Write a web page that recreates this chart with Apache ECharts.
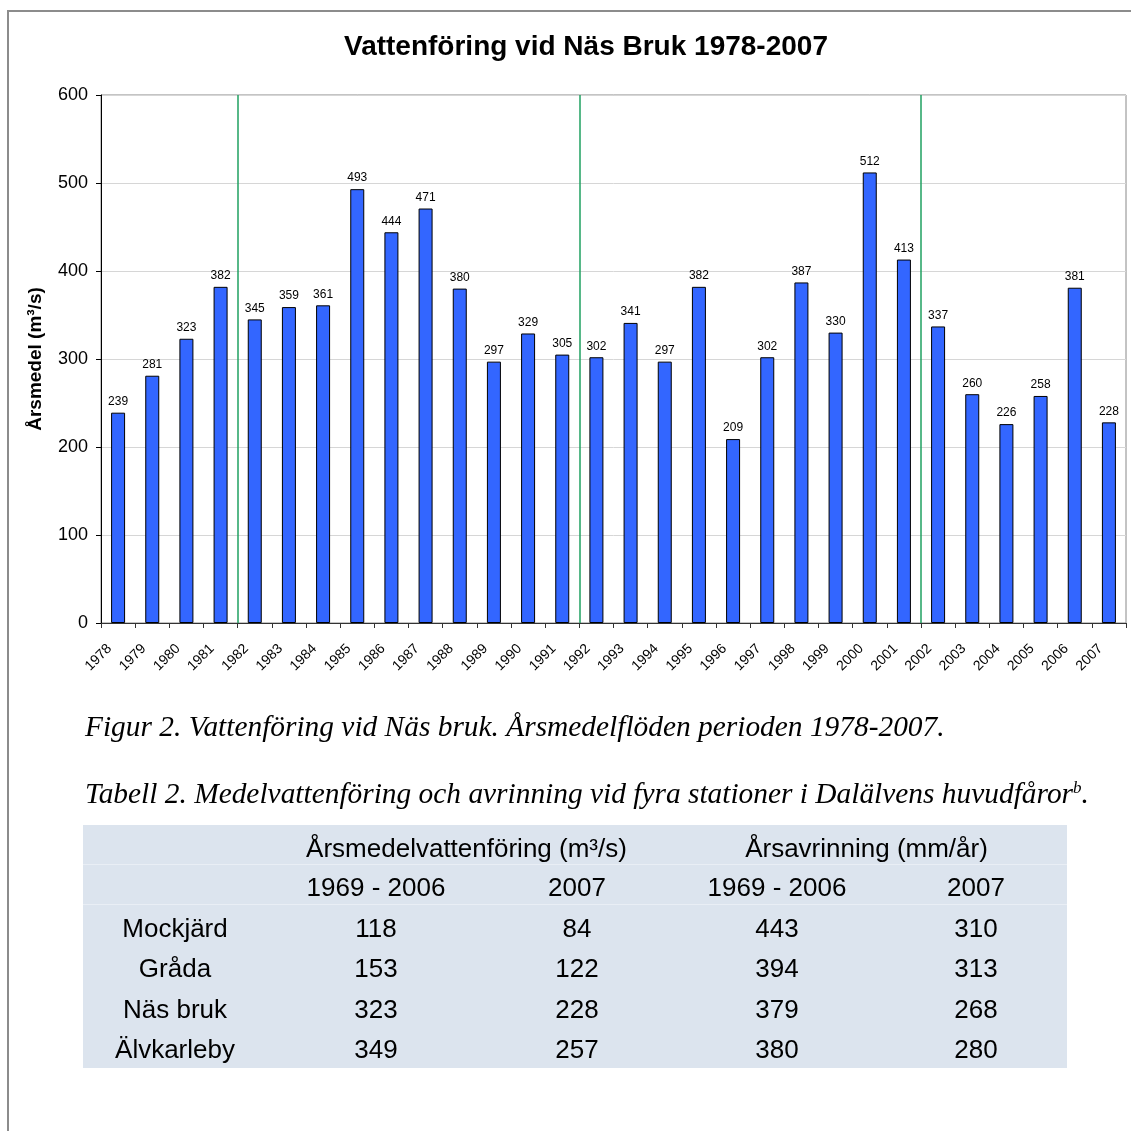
<!DOCTYPE html>
<html>
<head>
<meta charset="utf-8">
<script src="https://cdn.jsdelivr.net/npm/echarts@6/dist/echarts.min.js"></script>
<style>
  html, body { margin: 0; padding: 0; background: #fff; }
  #main { width: 1131px; height: 1131px; }
</style>
</head>
<body>
<div id="main"></div>
<script>
  const years = ['1978', '1979', '1980', '1981', '1982', '1983', '1984', '1985', '1986', '1987',
    '1988', '1989', '1990', '1991', '1992', '1993', '1994', '1995', '1996', '1997',
    '1998', '1999', '2000', '2001', '2002', '2003', '2004', '2005', '2006', '2007'];
  const flows = [239, 281, 323, 382, 345, 359, 361, 493, 444, 471,
    380, 297, 329, 305, 302, 341, 297, 382, 209, 302,
    387, 330, 512, 413, 337, 260, 226, 258, 381, 228];
  // green dividers sit just before these years
  const periodStarts = ['1982', '1992', '2002'];

  const stations = ['Mockjärd', 'Gråda', 'Näs bruk', 'Älvkarleby'];
  const flowMean = [118, 153, 323, 349];
  const flow2007 = [84, 122, 228, 257];
  const runoffMean = [443, 394, 379, 380];
  const runoff2007 = [310, 313, 268, 280];
  const groupHeads = ['Årsmedelvattenföring (m³/s)', 'Årsavrinning (mm/år)'];
  const periodHeads = ['1969 - 2006', '2007', '1969 - 2006', '2007'];

  const sans = 'Liberation Sans, Arial, sans-serif';
  const serif = 'Liberation Serif, Times New Roman, serif';
  const green = '#1fa060';

  // table graphics
  const colX = [175, 376, 577, 777, 976];
  const rowY = [850, 889, 930, 970, 1011, 1051];
  const tableText = (x, y, t) => ({
    type: 'text', x: x, y: y,
    style: { text: t, font: '26px ' + sans, fill: '#000', align: 'center', verticalAlign: 'middle' }
  });
  const tableEls = [
    { type: 'rect', shape: { x: 83, y: 825, width: 984, height: 243 }, style: { fill: '#dce4ee' } },
    { type: 'rect', shape: { x: 83, y: 864, width: 984, height: 1 }, style: { fill: '#e9eef5' } },
    { type: 'rect', shape: { x: 83, y: 904, width: 984, height: 1 }, style: { fill: '#e9eef5' } }
  ];
  tableEls.push(tableText((colX[1] + colX[2]) / 2 - 10, rowY[0], groupHeads[0]));
  tableEls.push(tableText((colX[3] + colX[4]) / 2 - 10, rowY[0], groupHeads[1]));
  periodHeads.forEach((h, i) => tableEls.push(tableText(colX[i + 1], rowY[1], h)));
  stations.forEach((s, r) => {
    const y = rowY[r + 2];
    tableEls.push(tableText(colX[0], y, s));
    tableEls.push(tableText(colX[1], y, String(flowMean[r])));
    tableEls.push(tableText(colX[2], y, String(flow2007[r])));
    tableEls.push(tableText(colX[3], y, String(runoffMean[r])));
    tableEls.push(tableText(colX[4], y, String(runoff2007[r])));
  });

  const chart = echarts.init(document.getElementById('main'));
  const option = {
    animation: false,
    title: {
      text: 'Vattenföring vid Näs Bruk 1978-2007',
      left: 339,
      top: 28,
      textStyle: { fontFamily: sans, fontSize: 28, fontWeight: 'bold', color: '#000' }
    },
    grid: {
      left: 101, right: 5, top: 95, bottom: 508,
      show: true, borderColor: '#888', borderWidth: 1
    },
    xAxis: [
      {
        type: 'category',
        data: years,
        axisLine: { lineStyle: { color: '#333', width: 1 } },
        axisTick: { show: true, length: 5, alignWithLabel: false, lineStyle: { color: '#333' } },
        axisLabel: {
          rotate: 45, interval: 0, margin: 15, padding: [0, 12, 0, 0],
          fontFamily: sans, fontSize: 14, color: '#000'
        },
        splitLine: { show: false }
      },
      // helper axis in category-boundary units, for the period dividers
      { type: 'value', min: 0, max: years.length, show: false }
    ],
    yAxis: {
      type: 'value',
      min: 0, max: 600, interval: 100,
      name: 'Årsmedel (m³/s)',
      nameLocation: 'middle',
      nameGap: 56,
      nameTextStyle: { fontFamily: sans, fontSize: 19, fontWeight: 'bold', color: '#000' },
      axisLine: { show: true, lineStyle: { color: '#000', width: 1 } },
      axisTick: { show: true, length: 5, lineStyle: { color: '#000' } },
      axisLabel: { fontFamily: sans, fontSize: 18, color: '#000', margin: 13 },
      splitLine: { show: true, lineStyle: { color: '#d6d6d6', width: 1 } }
    },
    series: [
      {
        type: 'bar',
        data: flows,
        barWidth: 14,
        itemStyle: { color: '#3366ff', borderColor: '#000', borderWidth: 1 },
        label: {
          show: true, position: 'top', distance: 5,
          fontFamily: sans, fontSize: 12, color: '#000'
        }
      },
      {
        type: 'line',
        xAxisIndex: 1,
        data: [],
        silent: true,
        markLine: {
          symbol: 'none',
          silent: true,
          label: { show: false },
          lineStyle: { color: green, width: 1.5, type: 'solid' },
          data: periodStarts.map(y => ({ xAxis: years.indexOf(y) }))
        }
      }
    ],
    graphic: [
      {
        type: 'rect', silent: true,
        shape: { x: 8, y: 11, width: 1300, height: 1300 },
        style: { fill: 'none', stroke: '#8c8c8c', lineWidth: 2 }
      },
      {
        type: 'text', x: 85, y: 728,
        style: {
          text: 'Figur 2. Vattenföring vid Näs bruk. Årsmedelflöden perioden 1978-2007.',
          font: 'italic 29.4px ' + serif, fill: '#000', verticalAlign: 'middle'
        }
      },
      {
        type: 'text', x: 85, y: 795,
        style: {
          text: '{a|Tabell 2. Medelvattenföring och avrinning vid fyra stationer i Dalälvens huvudfåror}{s|b}{a|.}',
          verticalAlign: 'middle',
          rich: {
            a: { font: 'italic 29.4px ' + serif, fill: '#000', verticalAlign: 'bottom' },
            s: { font: 'italic 17px ' + serif, fill: '#000', verticalAlign: 'bottom', padding: [0, 0, 13, 0] }
          }
        }
      }
    ].concat(tableEls)
  };
  chart.setOption(option);
</script>
</body>
</html>
